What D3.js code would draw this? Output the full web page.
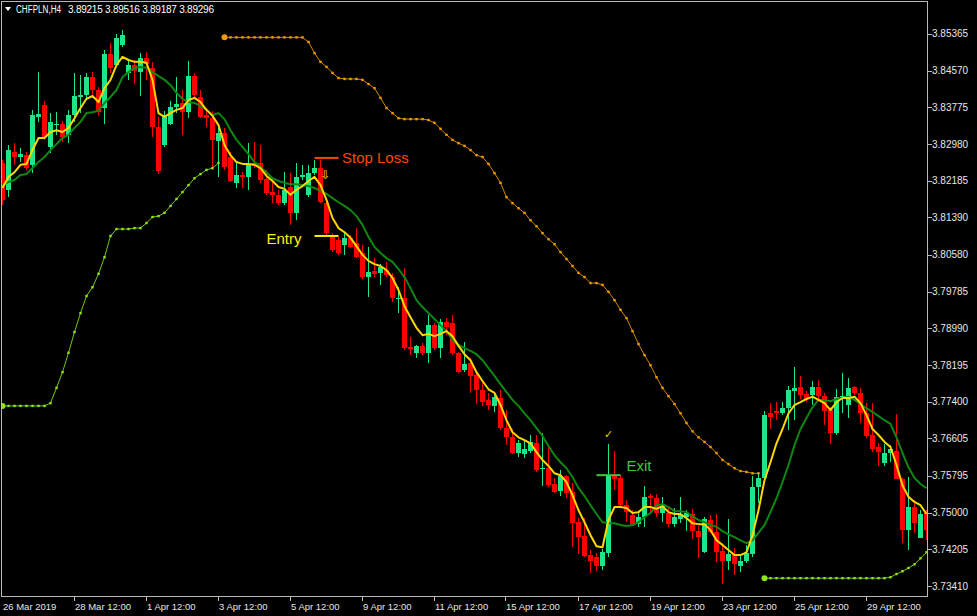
<!DOCTYPE html>
<html><head><meta charset="utf-8">
<script src="https://cdn.jsdelivr.net/npm/d3@7"></script>
<style>html,body{margin:0;padding:0;background:#000;overflow:hidden}</style>
</head><body>
<svg id="c" width="977" height="616"></svg>
<script>
// ---------- DATA (CHFPLN, H4) ----------
const symbolTitle = "CHFPLN,H4";
const titleQuote = "3.89215 3.89516 3.89187 3.89296";

const open = [
3.8257,3.8199,3.8281,3.8270,3.8274,3.8253,3.8357,3.8383,3.8292,3.8339,
3.8341,3.8318,3.8361,3.8400,3.8404,3.8443,3.8415,3.8376,3.8493,3.8469,
3.8513,3.8452,3.8469,3.8454,3.8484,3.8463,3.8335,3.8296,3.8341,3.8378,
3.8387,3.8367,3.8445,3.8400,3.8361,3.8354,3.8305,3.8322,3.8270,3.8214,
3.8231,3.8227,3.8257,3.8257,3.8222,3.8194,3.8188,3.8170,3.8205,3.8149,
3.8227,3.8188,3.8235,3.8246,3.8170,3.8101,3.8090,3.8079,3.8095,3.8084,
3.8062,3.8010,3.8023,3.8019,3.8025,3.8010,3.7962,3.7965,3.7858,3.7846,
3.7861,3.7846,3.7906,3.7856,3.7913,3.7910,3.7846,3.7809,3.7824,3.7798,
3.7765,3.7744,3.7731,3.7748,3.7683,3.7663,3.7629,3.7627,3.7633,3.7650,
3.7594,3.7596,3.7562,3.7547,3.7579,3.7544,3.7479,3.7449,3.7408,3.7404,
3.7384,3.7412,3.7581,3.7575,3.7516,3.7495,3.7475,3.7490,3.7536,3.7531,
3.7499,3.7499,3.7475,3.7486,3.7490,3.7497,3.7460,3.7414,3.7484,3.7458,
3.7417,3.7395,3.7410,3.7384,3.7395,3.7410,3.7555,3.7575,3.7715,3.7720,
3.7715,3.7726,3.7763,3.7772,3.7757,3.7754,3.7772,3.7752,3.7722,3.7672,
3.7750,3.7733,3.7772,3.7759,3.7715,3.7668,3.7642,3.7607,3.7629,3.7633,
3.7573,3.7462,3.7512,3.7445,3.7499];

const high = [
3.8263,3.8296,3.8300,3.8289,3.8281,3.8372,3.8454,3.8391,3.8365,3.8367,
3.8348,3.8372,3.8452,3.8448,3.8452,3.8454,3.8422,3.8502,3.8517,3.8536,
3.8545,3.8480,3.8480,3.8495,3.8497,3.8476,3.8357,3.8370,3.8391,3.8443,
3.8415,3.8478,3.8452,3.8415,3.8376,3.8370,3.8333,3.8333,3.8281,3.8259,
3.8237,3.8300,3.8302,3.8296,3.8242,3.8227,3.8199,3.8237,3.8235,3.8257,
3.8253,3.8253,3.8263,3.8263,3.8172,3.8105,3.8097,3.8107,3.8101,3.8116,
3.8079,3.8075,3.8051,3.8038,3.8043,3.8019,3.7988,3.8030,3.7880,3.7863,
3.7867,3.7928,3.7910,3.7919,3.7921,3.7928,3.7848,3.7869,3.7835,3.7804,
3.7787,3.7759,3.7761,3.7765,3.7722,3.7681,3.7657,3.7657,3.7668,3.7668,
3.7672,3.7642,3.7575,3.7592,3.7581,3.7564,3.7488,3.7488,3.7419,3.7412,
3.7421,3.7648,3.7633,3.7581,3.7527,3.7505,3.7501,3.7557,3.7540,3.7540,
3.7534,3.7510,3.7510,3.7534,3.7505,3.7507,3.7471,3.7490,3.7495,3.7497,
3.7430,3.7486,3.7423,3.7410,3.7430,3.7579,3.7585,3.7720,3.7737,3.7739,
3.7739,3.7774,3.7815,3.7796,3.7763,3.7785,3.7787,3.7759,3.7728,3.7767,
3.7802,3.7791,3.7774,3.7770,3.7737,3.7737,3.7650,3.7648,3.7646,3.7713,
3.7575,3.7577,3.7527,3.7505,3.7505];

const low = [
3.8166,3.8183,3.8253,3.8259,3.8242,3.8235,3.8346,3.8307,3.8279,3.8318,
3.8302,3.8300,3.8346,3.8365,3.8393,3.8404,3.8359,3.8341,3.8452,3.8465,
3.8508,3.8437,3.8428,3.8402,3.8437,3.8313,3.8233,3.8292,3.8339,3.8365,
3.8318,3.8354,3.8398,3.8354,3.8335,3.8242,3.8227,3.8242,3.8216,3.8203,
3.8203,3.8199,3.8246,3.8214,3.8188,3.8170,3.8166,3.8166,3.8123,3.8133,
3.8220,3.8183,3.8231,3.8170,3.8101,3.8064,3.8058,3.8058,3.8073,3.8051,
3.8006,3.7967,3.8010,3.7993,3.8010,3.7956,3.7932,3.7852,3.7841,3.7835,
3.7841,3.7824,3.7852,3.7835,3.7884,3.7841,3.7802,3.7804,3.7759,3.7735,
3.7731,3.7722,3.7718,3.7679,3.7646,3.7627,3.7620,3.7618,3.7629,3.7588,
3.7557,3.7555,3.7542,3.7536,3.7531,3.7425,3.7410,3.7404,3.7369,3.7373,
3.7375,3.7404,3.7549,3.7510,3.7479,3.7471,3.7469,3.7469,3.7499,3.7490,
3.7479,3.7469,3.7469,3.7477,3.7460,3.7443,3.7401,3.7412,3.7456,3.7393,
3.7345,3.7375,3.7365,3.7371,3.7391,3.7404,3.7521,3.7570,3.7681,3.7700,
3.7711,3.7679,3.7700,3.7746,3.7739,3.7733,3.7746,3.7690,3.7648,3.7668,
3.7715,3.7705,3.7754,3.7694,3.7661,3.7631,3.7601,3.7601,3.7609,3.7573,
3.7434,3.7419,3.7456,3.7445,3.7440];

const close = [
3.8177,3.8285,3.8270,3.8276,3.8246,3.8361,3.8363,3.8313,3.8346,3.8341,
3.8313,3.8361,3.8402,3.8404,3.8443,3.8415,3.8367,3.8493,3.8463,3.8528,
3.8534,3.8469,3.8456,3.8484,3.8471,3.8335,3.8240,3.8361,3.8378,3.8385,
3.8367,3.8445,3.8404,3.8357,3.8354,3.8307,3.8322,3.8248,3.8218,3.8231,
3.8227,3.8255,3.8250,3.8220,3.8192,3.8188,3.8170,3.8199,3.8149,3.8227,
3.8231,3.8235,3.8246,3.8172,3.8105,3.8069,3.8062,3.8095,3.8075,3.8053,
3.8010,3.8021,3.8017,3.8032,3.8014,3.7965,3.7965,3.7856,3.7854,3.7861,
3.7846,3.7906,3.7856,3.7913,3.7902,3.7846,3.7804,3.7822,3.7796,3.7765,
3.7739,3.7733,3.7751,3.7683,3.7663,3.7629,3.7650,3.7637,3.7653,3.7592,
3.7596,3.7559,3.7544,3.7579,3.7542,3.7477,3.7447,3.7406,3.7395,3.7384,
3.7414,3.7581,3.7573,3.7516,3.7501,3.7475,3.7490,3.7534,3.7531,3.7499,
3.7514,3.7475,3.7490,3.7495,3.7499,3.7460,3.7447,3.7486,3.7458,3.7414,
3.7395,3.7410,3.7388,3.7395,3.7412,3.7555,3.7575,3.7711,3.7707,3.7715,
3.7726,3.7765,3.7770,3.7754,3.7746,3.7772,3.7752,3.7720,3.7672,3.7750,
3.7752,3.7770,3.7759,3.7715,3.7666,3.7637,3.7631,3.7629,3.7637,3.7573,
3.7462,3.7512,3.7477,3.7497,3.7462];

// fast moving average (yellow), read per bar
const maFast = [
3.8203,3.8227,3.8237,3.8253,3.8255,3.8285,3.8311,3.8311,3.8324,3.8328,
3.8324,3.8333,3.8354,3.8376,3.8396,3.8402,3.8389,3.8419,3.8437,3.8469,
3.8487,3.8480,3.8476,3.8476,3.8474,3.8437,3.8365,3.8357,3.8365,3.8372,
3.8376,3.8393,3.8398,3.8389,3.8372,3.8359,3.8339,3.8296,3.8274,3.8259,
3.8255,3.8255,3.8253,3.8246,3.8229,3.8218,3.8205,3.8201,3.8188,3.8199,
3.8207,3.8218,3.8227,3.8209,3.8177,3.8138,3.8116,3.8107,3.8095,3.8077,
3.8058,3.8045,3.8038,3.8034,3.8025,3.8008,3.7982,3.7947,3.7923,3.7900,
3.7884,3.7887,3.7882,3.7887,3.7893,3.7882,3.7861,3.7843,3.7830,3.7804,
3.7785,3.7767,3.7759,3.7733,3.7700,3.7674,3.7663,3.7657,3.7650,3.7631,
3.7614,3.7601,3.7585,3.7581,3.7566,3.7538,3.7505,3.7479,3.7451,3.7427,
3.7425,3.7484,3.7512,3.7512,3.7510,3.7499,3.7501,3.7512,3.7512,3.7508,
3.7514,3.7501,3.7497,3.7497,3.7488,3.7477,3.7475,3.7475,3.7462,3.7440,
3.7430,3.7419,3.7408,3.7408,3.7414,3.7451,3.7505,3.7570,3.7609,3.7650,
3.7681,3.7715,3.7733,3.7739,3.7746,3.7751,3.7744,3.7737,3.7722,3.7739,
3.7748,3.7748,3.7751,3.7737,3.7711,3.7681,3.7668,3.7653,3.7642,3.7603,
3.7559,3.7534,3.7523,3.7516,3.7497];

// slow moving average (dark green), read per bar
const maSlow = [
3.8209,3.8216,3.8220,3.8231,3.8233,3.8246,3.8259,3.8270,3.8285,3.8298,
3.8311,3.8318,3.8333,3.8346,3.8365,3.8367,3.8370,3.8387,3.8400,3.8415,
3.8443,3.8454,3.8463,3.8465,3.8463,3.8454,3.8445,3.8437,3.8426,3.8409,
3.8396,3.8389,3.8387,3.8380,3.8372,3.8361,3.8365,3.8352,3.8328,3.8307,
3.8292,3.8276,3.8259,3.8248,3.8237,3.8224,3.8218,3.8214,3.8211,3.8211,
3.8209,3.8207,3.8203,3.8196,3.8190,3.8181,3.8172,3.8164,3.8155,3.8142,
3.8123,3.8097,3.8075,3.8062,3.8051,3.8043,3.8027,3.8010,3.7986,3.7960,
3.7945,3.7932,3.7919,3.7906,3.7893,3.7874,3.7863,3.7856,3.7850,3.7843,
3.7830,3.7813,3.7796,3.7778,3.7761,3.7744,3.7731,3.7715,3.7700,3.7683,
3.7666,3.7644,3.7624,3.7609,3.7596,3.7577,3.7553,3.7536,3.7516,3.7497,
3.7479,3.7477,3.7477,3.7473,3.7471,3.7473,3.7479,3.7490,3.7499,3.7516,
3.7518,3.7512,3.7503,3.7503,3.7501,3.7492,3.7484,3.7479,3.7473,3.7469,
3.7460,3.7453,3.7447,3.7440,3.7434,3.7440,3.7456,3.7473,3.7501,3.7531,
3.7566,3.7603,3.7646,3.7681,3.7705,3.7728,3.7744,3.7744,3.7741,3.7746,
3.7748,3.7751,3.7744,3.7735,3.7726,3.7718,3.7709,3.7700,3.7692,3.7663,
3.7629,3.7598,3.7575,3.7562,3.7553];

// trailing stop (dotted) segments
const trailUp1Start = 0;
const trailUp1 = [
3.7731,3.7731,3.7731,3.7731,3.7731,3.7731,3.7731,3.7731,3.7737,3.7770,
3.7804,3.7846,3.7891,3.7932,3.7969,3.7988,3.8017,3.8053,3.8099,3.8114,
3.8114,3.8114,3.8116,3.8116,3.8127,3.8140,3.8142,3.8149,3.8164,3.8179,
3.8194,3.8209,3.8224,3.8233,3.8242,3.8246,3.8257];
const trailDownStart = 37;
const trailDown = [
3.8529,3.8529,3.8529,3.8529,3.8529,3.8529,3.8529,3.8529,3.8529,3.8529,
3.8529,3.8529,3.8529,3.8529,3.8519,3.8495,3.8476,3.8465,3.8452,3.8441,
3.8439,3.8439,3.8439,3.8437,3.8428,3.8419,3.8398,3.8376,3.8365,3.8354,
3.8352,3.8352,3.8352,3.8352,3.8350,3.8344,3.8331,3.8318,3.8307,3.8300,
3.8294,3.8285,3.8274,3.8270,3.8255,3.8235,3.8214,3.8183,3.8170,3.8159,
3.8149,3.8133,3.8120,3.8105,3.8092,3.8081,3.8064,3.8049,3.8034,3.8019,
3.8010,3.7997,3.7997,3.7993,3.7978,3.7960,3.7939,3.7921,3.7893,3.7865,
3.7841,3.7819,3.7793,3.7770,3.7752,3.7735,3.7715,3.7694,3.7676,3.7663,
3.7653,3.7642,3.7629,3.7614,3.7605,3.7596,3.7590,3.7588,3.7585,3.7585];
const trailUp2Start = 127;
const trailUp2 = [
3.7358,3.7358,3.7358,3.7358,3.7358,3.7358,3.7358,3.7358,3.7358,3.7358,
3.7358,3.7358,3.7358,3.7358,3.7358,3.7358,3.7358,3.7358,3.7358,3.7358,
3.7358,3.7360,3.7367,3.7373,3.7380,3.7388,3.7401,3.7414];

// axis labels
const priceTicks = [3.85365,3.84570,3.83775,3.82980,3.82185,3.81390,3.80580,3.79785,
  3.78990,3.78195,3.77400,3.76605,3.75795,3.75000,3.74205,3.73410];
const dateLabels = ["26 Mar 2019","28 Mar 12:00","1 Apr 12:00","3 Apr 12:00","5 Apr 12:00",
  "9 Apr 12:00","11 Apr 12:00","15 Apr 12:00","17 Apr 12:00","19 Apr 12:00",
  "23 Apr 12:00","25 Apr 12:00","29 Apr 12:00"];
const dateBars = [0,12,24,36,48,60,72,84,96,108,120,132,144];

// trade annotations
const levelNames  = ["Stop Loss","Entry","Exit"];
const levelPrices = [3.8268, 3.8099, 3.7581];
const levelFrom   = [52, 52, 99];
const levelTo     = [56, 56, 103];
const signalArrowBar = 54,  signalArrowPrice = 3.8231;
const exitMarkBar = 101,    exitMarkPrice = 3.7670;

// ---------- DRAW ----------
const W = 977, H = 616;
const L = 2, R = 928, T = 2, B = 597;
const font = "'Liberation Sans', Arial, sans-serif";
const bullColor = "#1FE58A", bearColor = "#FF0000";

const svg = d3.select("#c");
svg.append("rect").attr("width", W).attr("height", H).attr("fill", "#000");

const x = d3.scaleLinear().domain([0, 154]).range([2.5, 926.5]);
const y = d3.scaleLinear().domain([3.73172, 3.86056]).range([B, T]);

svg.append("clipPath").attr("id", "clip")
  .append("rect").attr("x", L).attr("y", T).attr("width", R - L).attr("height", B - T);
const g = svg.append("g").attr("clip-path", "url(#clip)");

// candles
const idx = d3.range(open.length);
const cg = g.append("g").attr("shape-rendering", "crispEdges");
cg.selectAll("line.w").data(idx).join("line")
  .attr("x1", i => x(i)).attr("x2", i => x(i))
  .attr("y1", i => y(high[i])).attr("y2", i => y(low[i]))
  .attr("stroke", i => close[i] >= open[i] ? bullColor : bearColor)
  .attr("stroke-width", 1);
cg.selectAll("rect.b").data(idx).join("rect")
  .attr("x", i => x(i) - 2.5).attr("width", 5)
  .attr("y", i => Math.min(y(open[i]), y(close[i])))
  .attr("height", i => Math.max(1, Math.abs(y(open[i]) - y(close[i]))))
  .attr("fill", i => close[i] >= open[i] ? bullColor : bearColor);

// moving averages
const lineGen = d3.line().x((d, i) => x(i)).y(d => y(d));
g.append("path").attr("d", lineGen(maSlow)).attr("fill", "none")
  .attr("stroke", "#0F860F").attr("stroke-width", 2).attr("stroke-linejoin", "round");
g.append("path").attr("d", lineGen(maFast)).attr("fill", "none")
  .attr("stroke", "#FFD700").attr("stroke-width", 2).attr("stroke-linejoin", "round");

// trailing stop dotted lines
function trail(values, start, color) {
  const pts = values.map((v, k) => [x(start + k), y(v)]);
  g.append("path").attr("d", d3.line()(pts)).attr("fill", "none")
    .attr("stroke", color).attr("stroke-width", 1).attr("opacity", 0.85);
  g.selectAll(null).data(pts).join("rect")
    .attr("x", p => p[0] - 1.2).attr("y", p => p[1] - 1.2)
    .attr("width", 2.4).attr("height", 2.4).attr("fill", color);
  g.append("circle").attr("cx", pts[0][0]).attr("cy", pts[0][1]).attr("r", 3).attr("fill", color);
}
trail(trailUp1, trailUp1Start, "#8BE61A");
trail(trailDown, trailDownStart, "#F29A00");
trail(trailUp2, trailUp2Start, "#8BE61A");

// trade levels
const levelColors = ["#FF4500", "#FFF000", "#3CC83C"];
levelNames.forEach((name, k) => {
  const yy = y(levelPrices[k]);
  g.append("line").attr("x1", x(levelFrom[k])).attr("x2", x(levelTo[k]))
    .attr("y1", yy).attr("y2", yy).attr("stroke", levelColors[k]).attr("stroke-width", 2);
});
svg.append("text").attr("x", x(levelTo[0]) + 3.5).attr("y", y(levelPrices[0]) + 5.5)
  .attr("fill", levelColors[0]).attr("font-family", font).attr("font-size", 15).text(levelNames[0]);
svg.append("text").attr("x", x(levelFrom[1]) - 13).attr("y", y(levelPrices[1]) + 8)
  .attr("text-anchor", "end")
  .attr("fill", levelColors[1]).attr("font-family", font).attr("font-size", 15).text(levelNames[1]);
svg.append("text").attr("x", x(levelTo[2]) + 6).attr("y", y(levelPrices[2]) - 4)
  .attr("fill", levelColors[2]).attr("font-family", font).attr("font-size", 15).text(levelNames[2]);

// small signal glyphs
svg.append("text").attr("x", x(signalArrowBar) - 1).attr("y", y(signalArrowPrice) + 4.5)
  .attr("text-anchor", "middle").attr("fill", "#E0AE00")
  .attr("font-family", "'DejaVu Sans', sans-serif").attr("font-size", 12).attr("font-weight", "bold").text("⇩");
svg.append("text").attr("x", x(exitMarkBar)).attr("y", y(exitMarkPrice) + 4)
  .attr("text-anchor", "middle").attr("fill", "#E6D200")
  .attr("font-family", "'DejaVu Sans', sans-serif").attr("font-size", 11).text("✓");

// frame
svg.append("rect").attr("x", L - 0.5).attr("y", T - 0.5).attr("width", R - L).attr("height", B - T)
  .attr("fill", "none").attr("stroke", "#B8B8B8").attr("stroke-width", 1)
  .attr("shape-rendering", "crispEdges");

// right price axis
const fmt = d3.format(".5f");
const ya = svg.append("g").attr("shape-rendering", "crispEdges");
ya.selectAll("line").data(priceTicks).join("line")
  .attr("x1", R - 0.5).attr("x2", R + 3.5)
  .attr("y1", d => Math.round(y(d)) + 0.5).attr("y2", d => Math.round(y(d)) + 0.5)
  .attr("stroke", "#B8B8B8");
svg.append("g").selectAll("text").data(priceTicks).join("text")
  .attr("x", R + 4).attr("y", d => y(d) + 3.5)
  .attr("fill", "#E6E6E6").attr("font-family", font).attr("font-size", 10)
  .text(d => fmt(d));

// bottom time axis
const xa = svg.append("g").attr("shape-rendering", "crispEdges");
xa.selectAll("line").data(dateBars.slice(1)).join("line")
  .attr("x1", d => Math.round(x(d)) - 0.5).attr("x2", d => Math.round(x(d)) - 0.5)
  .attr("y1", B).attr("y2", B + 4).attr("stroke", "#B8B8B8");
svg.append("g").selectAll("text").data(dateLabels).join("text")
  .attr("x", (d, k) => k === 0 ? 3 : Math.round(x(dateBars[k])))
  .attr("y", 610)
  .attr("fill", "#E6E6E6").attr("font-family", font).attr("font-size", 9.5)
  .text(d => d);

// title
svg.append("path").attr("d", "M5,7 L11,7 L8,11 Z").attr("fill", "#FFFFFF");
svg.append("text").attr("x", 16).attr("y", 12.5).attr("fill", "#FFFFFF")
  .attr("font-family", font).attr("font-size", 10)
  .attr("textLength", 45).attr("lengthAdjust", "spacingAndGlyphs").text(symbolTitle);
svg.append("text").attr("x", 68).attr("y", 12.5).attr("fill", "#FFFFFF")
  .attr("font-family", font).attr("font-size", 10)
  .attr("textLength", 146).attr("lengthAdjust", "spacing").text(titleQuote);
</script>
</body></html>
